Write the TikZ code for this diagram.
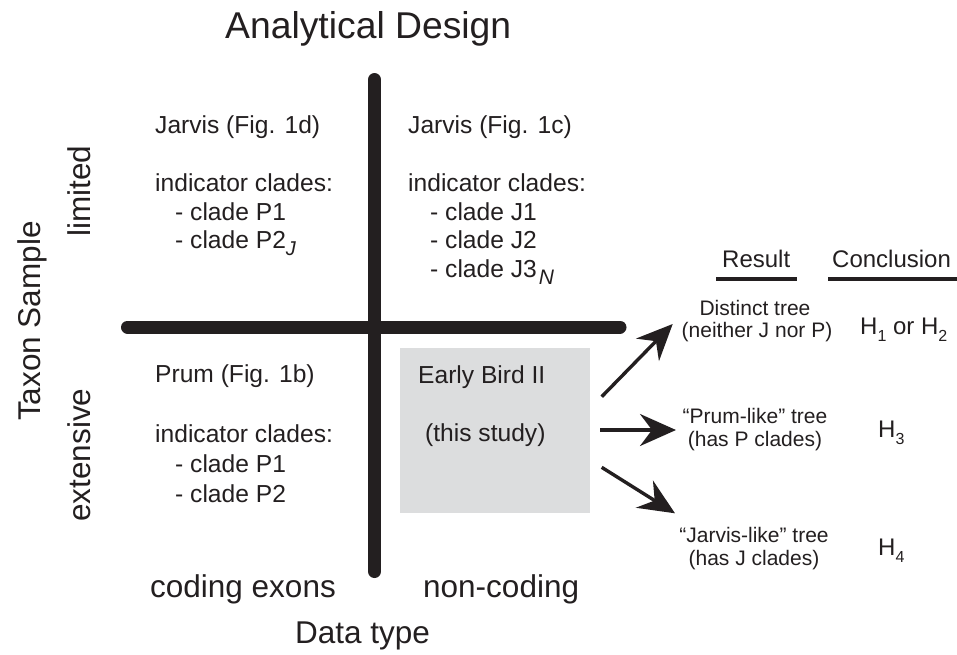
\documentclass[tikz,border=0pt]{standalone}
\usepackage{fontspec}
\setmainfont{Liberation Sans}
\usetikzlibrary{arrows.meta}
\definecolor{ink}{HTML}{231F20}
\definecolor{boxgray}{HTML}{DCDDDE}
\newcommand{\lowsub}[2]{\raisebox{-7pt}{\fontsize{#1}{#1}\selectfont #2}}
\begin{document}
\begin{tikzpicture}[x=1pt,y=-1pt,
  base/.style={inner sep=0pt, text=ink},
  quad/.style={base, anchor=base west, font=\fontsize{24.6}{29}\selectfont},
  axis/.style={base, font=\fontsize{31.5}{36}\selectfont},
  res/.style={base, anchor=base, font=\fontsize{21}{24}\selectfont},
  concl/.style={base, anchor=base west, font=\fontsize{24}{28}\selectfont},
  hdr/.style={base, anchor=base west, font=\fontsize{24}{28}\selectfont},
  bar/.style={draw=ink, line width=13pt, line cap=round},
  uline/.style={draw=ink, line width=4pt},
  arr/.style={draw=ink, line width=3.4pt, -{Stealth[length=36pt,width=32pt,inset=12pt]}}
]
\useasboundingbox (0,0) rectangle (957,654);

% title
\node[base, anchor=base west, font=\fontsize{37.3}{41}\selectfont] (title) at (225,38) {Analytical Design};

% grey box
\fill[boxgray] (400,348) rectangle (590,513);
\node[inner sep=0pt, minimum width=190pt, minimum height=165pt, anchor=north west] (box) at (400,348) {};

% bars
\coordinate (vtop) at (374.5,79.5);
\coordinate (vbot) at (374.5,571.5);
\coordinate (hleft) at (127.5,327);
\coordinate (hright) at (620,327);
\draw[bar] (vtop) -- (vbot);
\draw[bar] (hleft) -- (hright);

% axis labels
\node[axis, anchor=base, rotate=90] (taxon) at (40,321) {Taxon Sample};
\node[axis, anchor=base, rotate=90] (limited) at (90,191) {limited};
\node[axis, anchor=base, rotate=90] (extensive) at (90,455) {extensive};
\node[axis, anchor=base west] (coding) at (150,597) {coding exons};
\node[axis, anchor=base west] (noncoding) at (423,597) {non-coding};
\node[axis, anchor=base west] (datatype) at (295,643) {Data type};

% top-left quadrant
\node[quad] (tl1) at (155,133) {Jarvis (Fig. 1d)};
\node[quad] (tl2) at (155,191) {indicator clades:};
\node[quad] (tl3) at (175,220) {- clade P1};
\node[quad] (tl4) at (175,248) {- clade P2\lowsub{20}{\itshape J}};

% top-right quadrant
\node[quad] (tr1) at (408,133) {Jarvis (Fig. 1c)};
\node[quad] (tr2) at (408,191) {indicator clades:};
\node[quad] (tr3) at (430,220) {- clade J1};
\node[quad] (tr4) at (430,248) {- clade J2};
\node[quad] (tr5) at (430,277) {- clade J3\hspace{2pt}\lowsub{21}{\itshape N}};

% bottom-left quadrant
\node[quad] (bl1) at (155,382) {Prum (Fig. 1b)};
\node[quad] (bl2) at (155,442) {indicator clades:};
\node[quad] (bl3) at (175,472) {- clade P1};
\node[quad] (bl4) at (175,502) {- clade P2};

% box text
\node[quad] (eb1) at (418,383) {Early Bird II};
\node[quad] (eb2) at (425,441) {(this study)};

% headers
\node[hdr] (result) at (722,267) {Result};
\node[hdr] (conclusion) at (832,267) {Conclusion};
\coordinate (ru1) at (716,279);
\coordinate (ru2) at (797,279);
\coordinate (cu1) at (828,279);
\coordinate (cu2) at (960,279);
\draw[uline] (ru1) -- (ru2);
\draw[uline] (cu1) -- (cu2);

% results
\node[res] (r1a) at (755,315) {Distinct tree};
\node[res] (r1b) at (757,337) {(neither J nor P)};
\node[res] (r2a) at (755,423) {“Prum-like” tree};
\node[res] (r2b) at (755,446) {(has P clades)};
\node[res] (r3a) at (754,542) {“Jarvis-like” tree};
\node[res] (r3b) at (754,565) {(has J clades)};

% conclusions
\node[concl] (h12) at (860,334) {H\lowsub{16}{1} or H\lowsub{16}{2}};
\node[concl] (h3) at (878,437) {H\lowsub{16}{3}};
\node[concl] (h4) at (878,555) {H\lowsub{16}{4}};

% arrows
\coordinate (a1s) at (601.7,396.7);
\coordinate (a1e) at (672.7,324);
\coordinate (a2s) at (600,430);
\coordinate (a2e) at (676,430);
\coordinate (a3s) at (601.7,467.3);
\coordinate (a3e) at (675,513.3);
\draw[arr] (a1s) -- (a1e);
\draw[arr] (a2s) -- (a2e);
\draw[arr] (a3s) -- (a3e);
\end{tikzpicture}
\end{document}
